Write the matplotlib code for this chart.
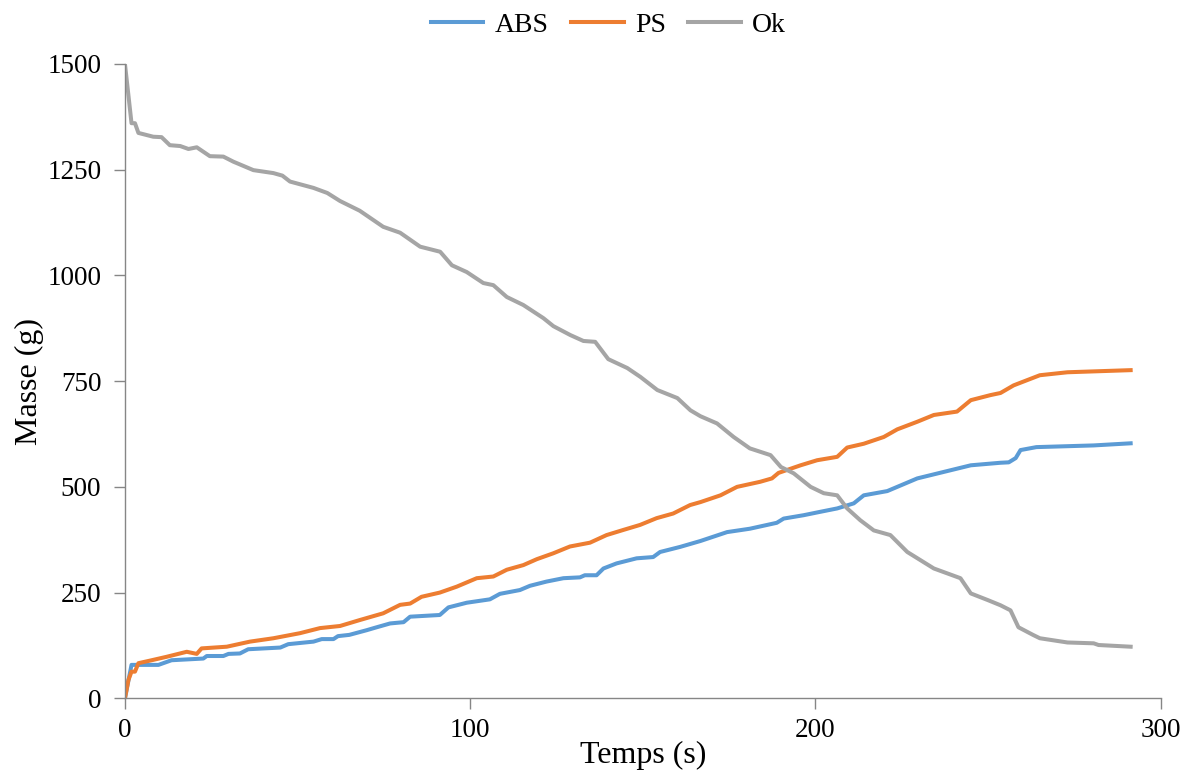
import matplotlib
matplotlib.use("Agg")
import matplotlib.pyplot as plt

plt.rcParams['font.family'] = ['Liberation Serif', 'DejaVu Serif']

# ABS mass over time
t_abs = [0, 1.9, 9.7, 13.5, 22.7, 23.7, 28.5, 30, 33.3, 35.7, 45, 47.3, 54.6, 57, 60.4,
         61.7, 65, 70, 72.5, 76.8, 80.7, 82.6, 91.2, 93.7, 99, 105.7, 108.6, 114.4, 117.3,
         122.1, 127, 131.8, 133.2, 136.6, 138.6, 142.4, 148.2, 153, 155, 160.8, 166.7,
         174.4, 181, 188.8, 190.8, 196.6, 201.4, 206.3, 211.1, 214, 220.8, 223.7, 229.5,
         239, 245, 253.6, 256, 258, 259.4, 264, 280.6, 291.3]
m_abs = [0, 79, 79, 90, 94, 100, 100, 105, 106, 116, 120, 128, 134, 140, 140,
         147, 150, 161, 167, 177, 180, 193, 197, 215, 226, 234, 247, 256, 266,
         276, 284, 286, 291, 291, 307, 319, 331, 334, 346, 358, 372,
         393, 401, 415, 425, 433, 441, 449, 461, 480, 490, 500, 520,
         539, 551, 557, 558, 568, 587, 594, 598, 603]

# PS mass over time
t_ps = [0, 1, 1.9, 2.9, 3.9, 7.2, 12, 17.9, 20.8, 22.2, 29.5, 36.2, 43, 50.7, 56.5,
        62.3, 68, 74.8, 79.7, 82.6, 85.9, 91.2, 96.1, 101.9, 106.7, 110.6, 115.4, 119.3,
        124.1, 128.9, 134.7, 139.5, 144.3, 149.2, 154, 158.8, 163.7, 166.7, 172.5, 177.3,
        184, 187.4, 189.3, 195.7, 200.5, 206.3, 209.2, 214, 219.8, 223.7, 229.5, 234.3,
        241, 245, 250.7, 253.6, 257.4, 265, 273, 291.3]
m_ps = [0, 43, 63, 63, 83, 89, 98, 110, 105, 118, 122, 134, 142, 154, 166,
        171, 185, 201, 221, 224, 240, 250, 264, 284, 288, 304, 315, 329,
        343, 359, 368, 386, 398, 410, 426, 437, 457, 464, 480, 500,
        512, 520, 533, 551, 563, 571, 593, 602, 618, 636, 654, 670,
        678, 705, 717, 722, 740, 764, 771, 776]

# Ok (remaining) mass over time
t_ok = [0, 1.9, 2.9, 3.9, 8.2, 10.6, 13, 16, 18.4, 20.8, 24.6, 28.5, 31.4, 37.2, 43,
        45.6, 47.8, 54.6, 58.6, 62.3, 68, 74.8, 79.7, 85.5, 91.3, 94.7, 99, 103.8, 106.7,
        110.6, 115.4, 121.2, 124.1, 129, 132.8, 136.2, 140, 145.5, 149.3, 154.2, 160,
        163.8, 166.7, 171.5, 176.3, 181, 187, 190, 193.7, 198.6, 202.4, 206.3, 209.2,
        213, 216.9, 221.7, 226.6, 234.3, 242, 245, 250, 253.6, 256.5, 258.8, 263, 265,
        273, 280.6, 282, 291.3]
m_ok = [1500, 1360, 1360, 1337, 1328, 1327, 1308, 1306, 1299, 1303, 1282, 1281, 1269, 1249, 1242,
        1236, 1222, 1207, 1195, 1176, 1153, 1115, 1101, 1068, 1056, 1024, 1008, 982, 977,
        949, 930, 899, 880, 859, 845, 843, 802, 781, 760, 729, 710,
        681, 667, 650, 618, 591, 575, 547, 532, 500, 485, 480, 449,
        421, 397, 386, 346, 307, 284, 248, 232, 220, 208, 168, 150, 142,
        132, 130, 126, 122]

series = [("ABS", t_abs, m_abs, "#5B9BD5"),
          ("PS", t_ps, m_ps, "#ED7D31"),
          ("Ok", t_ok, m_ok, "#A5A5A5")]

fig = plt.figure(figsize=(11.81, 7.71), dpi=100)
ax = fig.add_axes([0.1058, 0.0943, 0.877, 0.8227])

for name, t, m, c in series:
    ax.plot(t, m, color=c, lw=2.9, label=name, solid_joinstyle='round')

ax.set_xlim(0, 300)
ax.set_ylim(0, 1500)
ax.set_xticks([0, 100, 200, 300])
ax.set_yticks([0, 250, 500, 750, 1000, 1250, 1500])

axis_col = "#868686"
for s in ("top", "right"):
    ax.spines[s].set_visible(False)
for s in ("left", "bottom"):
    ax.spines[s].set_color(axis_col)
    ax.spines[s].set_linewidth(1.0)
ax.tick_params(axis='both', direction='out', length=8, width=1.0, color=axis_col,
               labelsize=19.5, labelcolor='black')
ax.tick_params(axis='y', pad=9)
ax.tick_params(axis='x', pad=6)

ax.set_xlabel("Temps (s)", fontsize=23, labelpad=-1)
ax.set_ylabel("Masse (g)", fontsize=23, labelpad=2)

leg = fig.legend(loc='center', bbox_to_anchor=(0.515, 0.967), ncol=3, frameon=False,
                 fontsize=20, handlelength=1.9, columnspacing=0.8, handletextpad=0.4)

fig.savefig("out.png", dpi=100)
